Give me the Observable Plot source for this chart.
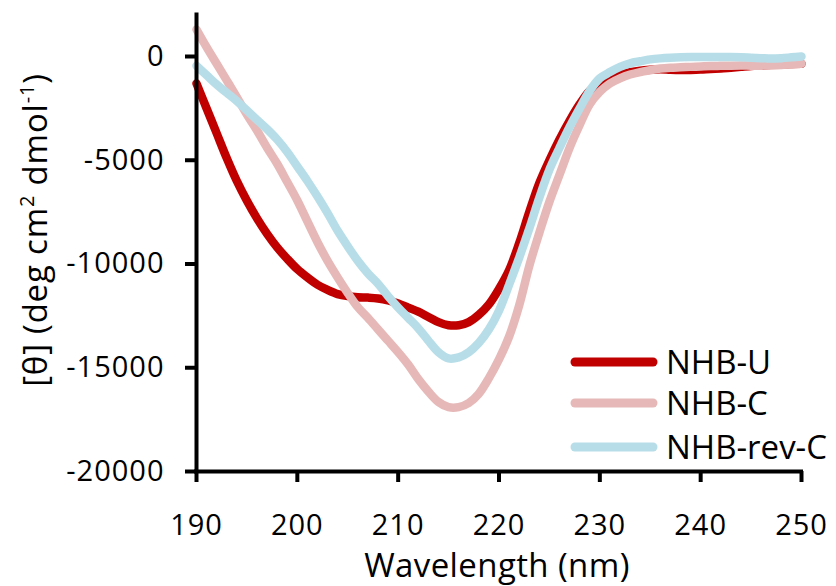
<!DOCTYPE html>
<html>
<head>
<meta charset="utf-8">
<script src="https://cdn.jsdelivr.net/npm/d3@7"></script>
<script src="https://cdn.jsdelivr.net/npm/@observablehq/plot@0.6"></script>
<style>
  html, body { margin: 0; padding: 0; background: #fff; }
  #chart { width: 836px; height: 586px; }
</style>
</head>
<body>
<div id="chart"></div>
<script>
// Wavelength (nm)
const wavelength = [190,191,192,193,194,195,196,197,198,199,200,201,202,203,204,205,206,207,208,209,
  210,211,212,213,214,215,216,217,218,219,220,221,222,223,224,225,226,227,228,229,
  230,231,232,233,234,235,236,237,238,239,240,241,242,243,244,245,246,247,248,249,250];

// Series names
const seriesNames = ["NHB-U", "NHB-C", "NHB-rev-C"];

// NHB-U [θ] values
const nhbU = [-1300,-2500,-3700,-4900,-6000,-6950,-7800,-8550,-9200,-9750,
  -10250,-10650,-11000,-11250,-11450,-11550,-11600,-11620,-11660,-11750,
  -11900,-12100,-12300,-12550,-12800,-12950,-12950,-12800,-12450,-11950,
  -11200,-10300,-9000,-7500,-6100,-5000,-4000,-3100,-2300,-1650,
  -1300,-1050,-880,-760,-680,-640,-620,-640,-650,-645,
  -630,-600,-580,-540,-500,-460,-430,-400,-380,-360,-350];

// NHB-C [θ] values
const nhbC = [1300,450,-350,-1150,-1960,-2800,-3570,-4400,-5170,-6050,
  -6940,-7950,-8950,-9850,-10650,-11400,-12080,-12600,-13150,-13700,
  -14250,-14850,-15550,-16150,-16650,-16900,-16900,-16700,-16250,-15500,
  -14600,-13500,-12000,-10100,-8500,-7000,-5700,-4400,-3300,-2300,
  -1700,-1300,-1050,-870,-750,-660,-580,-540,-520,-500,
  -480,-460,-450,-440,-435,-440,-440,-430,-410,-380,-350];

// NHB-rev-C [θ] values
const nhbRevC = [-450,-900,-1350,-1750,-2150,-2600,-3050,-3500,-4000,-4600,
  -5300,-6000,-6750,-7550,-8400,-9150,-9850,-10450,-10950,-11550,
  -12100,-12600,-13100,-13700,-14250,-14550,-14500,-14250,-13800,-13150,
  -12250,-11000,-9700,-8300,-6800,-5450,-4400,-3400,-2500,-1650,
  -1050,-750,-500,-330,-230,-140,-90,-60,-40,-30,
  -30,-30,-30,-30,-40,-60,-80,-100,-80,-40,0];

const xTicks = [190, 200, 210, 220, 230, 240, 250];
const yTicks = [-20000, -15000, -10000, -5000, 0];
const colors = ["#C00000", "#E6B9B8", "#B7DEE8"];

const seriesValues = [nhbU, nhbC, nhbRevC];
const rows = seriesNames.map((name, i) =>
  wavelength.map((w, j) => ({wl: w, v: seriesValues[i][j], series: name})));

const svg = Plot.plot({
  width: 836,
  height: 586,
  marginTop: 14.5,
  marginBottom: 115,
  marginLeft: 196,
  marginRight: 35,
  style: {fontFamily: "'Open Sans', sans-serif", fontSize: "29px", letterSpacing: "1px", color: "#000", background: "#fff"},
  x: {domain: [190, 250]},
  y: {domain: [-20000, 2000]},
  marks: [
    ...rows.map((r, i) => Plot.line(r, {x: "wl", y: "v", stroke: colors[i], strokeWidth: 8.5, curve: "catmull-rom"})),
    Plot.ruleX([190], {stroke: "#000", strokeWidth: 4, strokeLinecap: "square"}),
    Plot.ruleY([-20000], {stroke: "#000", strokeWidth: 4, strokeLinecap: "square"}),
    Plot.axisX({ticks: xTicks, tickSize: 11, tickPadding: 32, strokeWidth: 4, label: null, tickFormat: d => String(d)}),
    Plot.axisY({ticks: yTicks, tickSize: 11, tickPadding: 21, strokeWidth: 4, label: null, tickFormat: d => String(d)})
  ]
});

const s = d3.select(svg);

// X axis title
s.append("text")
  .attr("x", 497).attr("y", 577)
  .attr("text-anchor", "middle")
  .style("font-size", "33px").style("letter-spacing", "0.4px")
  .attr("fill", "#000")
  .text("Wavelength (nm)");

// Y axis title with superscripts
const yt = s.append("text")
  .attr("transform", "translate(47,230) rotate(-90)")
  .attr("text-anchor", "middle")
  .style("font-size", "33px").style("letter-spacing", "0.8px")
  .attr("fill", "#000");
yt.append("tspan").text("[θ] (deg cm");
yt.append("tspan").attr("baseline-shift", "super").style("font-size", "20px").text("2");
yt.append("tspan").text(" dmol");
yt.append("tspan").attr("baseline-shift", "super").style("font-size", "20px").text("-1");
yt.append("tspan").text(")");

// Legend
const legY = [362, 403, 447];
const lg = s.append("g");
seriesNames.forEach((name, i) => {
  lg.append("line")
    .attr("x1", 575).attr("x2", 653)
    .attr("y1", legY[i]).attr("y2", legY[i])
    .attr("stroke", colors[i]).attr("stroke-width", 9).attr("stroke-linecap", "round");
  lg.append("text")
    .attr("x", 666).attr("y", legY[i] + 12)
    .attr("text-anchor", "start")
    .style("font-size", "33px").style("letter-spacing", "0px")
    .attr("fill", "#000")
    .text(name);
});

document.getElementById("chart").appendChild(svg);
</script>
</body>
</html>
